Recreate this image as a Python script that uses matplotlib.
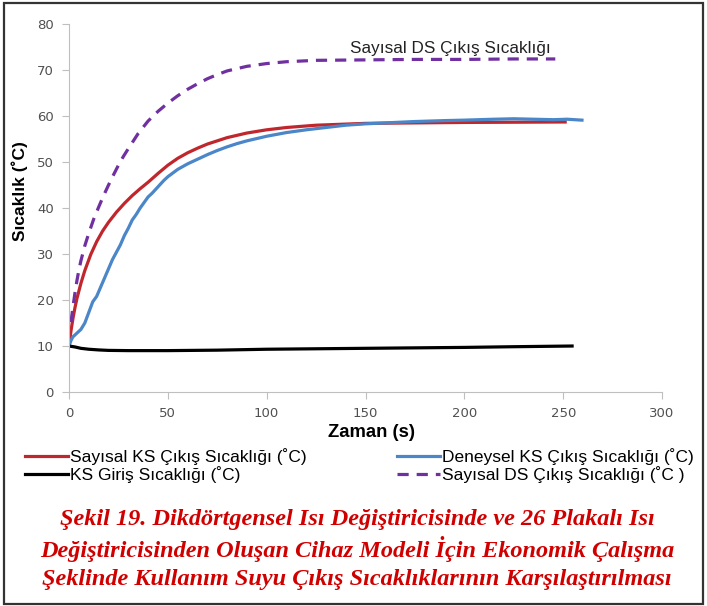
import matplotlib
matplotlib.use("Agg")
import matplotlib.pyplot as plt
from matplotlib.patches import Rectangle

# Data
t_red = [0, 1, 2, 3, 4, 6, 8, 11, 14, 17, 20, 24, 28, 32, 36, 40, 45, 50, 55, 60, 65, 70, 75,
         80, 90, 100, 110, 125, 150, 175, 200, 251]
T_red = [10, 13.3, 16.0, 18.3, 20.3, 23.6, 26.4, 29.9, 32.7, 35.0, 36.9, 39.1, 41.0, 42.7, 44.2,
         45.6, 47.5, 49.3, 50.8, 52.0, 53.0, 53.9, 54.6, 55.3, 56.3, 57.0, 57.5, 58.0, 58.4, 58.5,
         58.6, 58.7]

t_blue = [0, 1, 2, 4, 6, 8, 10, 12, 14, 16, 18, 20, 22, 24, 26, 28, 30, 32, 34, 36, 38, 40, 42,
          45, 48, 50, 55, 60, 65, 70, 75, 80, 85, 90, 100, 110, 120, 130, 140, 150, 160, 175,
          190, 200, 215, 225, 235, 245, 252, 259.5]
T_blue = [10, 11.2, 12.0, 12.8, 13.6, 15.0, 17.3, 19.6, 20.8, 22.8, 24.8, 26.8, 28.8, 30.4, 32.0,
          34.0, 35.6, 37.4, 38.6, 40.0, 41.2, 42.4, 43.2, 44.6, 46.0, 46.8, 48.4, 49.6, 50.6, 51.6,
          52.5, 53.3, 54.0, 54.6, 55.6, 56.4, 57.0, 57.5, 58.0, 58.3, 58.5, 58.8, 59.0, 59.1, 59.3,
          59.4, 59.3, 59.2, 59.3, 59.1]

t_black = [0, 3, 6, 10, 15, 20, 30, 50, 75, 100, 125, 150, 175, 200, 225, 254.5]
T_black = [10, 9.8, 9.5, 9.3, 9.15, 9.05, 9.0, 9.0, 9.1, 9.3, 9.4, 9.5, 9.6, 9.7, 9.85, 10.0]

t_purple = [1, 2, 3, 4, 5, 6, 8, 10, 12.5, 15, 17.5, 20, 22.5, 25, 27.5, 30, 35, 40, 45, 50, 55,
            60, 65, 70, 75, 80, 90, 100, 110, 125, 150, 175, 200, 225, 246]
T_purple = [15.2, 18.5, 21.5, 24.2, 26.5, 28.5, 31.8, 34.5, 37.6, 40.2, 42.7, 45.0, 47.2, 49.3,
            51.2, 52.9, 56.2, 58.9, 61.0, 62.8, 64.4, 65.8, 67.0, 68.1, 69.0, 69.8, 70.8, 71.4,
            71.8, 72.1, 72.2, 72.3, 72.3, 72.4, 72.4]

labels = ["Sayısal KS Çıkış Sıcaklığı (˚C)",
          "KS Giriş Sıcaklığı (˚C)",
          "Deneysel KS Çıkış Sıcaklığı (˚C)",
          "Sayısal DS Çıkış Sıcaklığı (˚C )"]
annotation = "Sayısal DS Çıkış Sıcaklığı"
xlabel = "Zaman (s)"
ylabel = "Sıcaklık (˚C)"
caption = ["Şekil 19. Dikdörtgensel Isı Değiştiricisinde ve 26 Plakalı Isı",
           "Değiştiricisinden Oluşan Cihaz Modeli İçin Ekonomik Çalışma",
           "Şeklinde Kullanım Suyu Çıkış Sıcaklıklarının Karşılaştırılması"]

plt.rcParams['font.family'] = ['Liberation Sans', 'DejaVu Sans']

fig = plt.figure(figsize=(7.07, 6.06), dpi=100)
fig.patches.append(Rectangle((0.005, 0.004), 0.99, 0.991, transform=fig.transFigure,
                             fill=False, edgecolor='#333333', linewidth=1.6))

ax = fig.add_axes([0.0976, 0.3531, 0.8388, 0.6073])
red, = ax.plot(t_red, T_red, color='#C0272D', lw=2.3)
blue, = ax.plot(t_blue, T_blue, color='#4A86C8', lw=2.3)
black, = ax.plot(t_black, T_black, color='#000000', lw=2.3)
purple, = ax.plot(t_purple, T_purple, color='#7030A0', lw=2.3, dashes=(3.5, 2.5))

ax.set_xlim(0, 300)
ax.set_ylim(0, 80)
ax.set_xticks(range(0, 301, 50))
ax.set_yticks(range(0, 81, 10))
for s in ['top', 'right']:
    ax.spines[s].set_visible(False)
for s in ['left', 'bottom']:
    ax.spines[s].set_color('#BFBFBF')
ax.tick_params(colors='#BFBFBF', labelcolor='#505050', length=5, direction='out', pad=6)
for lab in ax.get_xticklabels() + ax.get_yticklabels():
    lab.set_family(['DejaVu Sans'])
    lab.set_fontsize(9.5)

ax.text(142, 74.6, annotation, fontsize=12.3, color='#222222', va='center')

fig.text(0.028, 0.684, ylabel, rotation=90, ha='center', va='center',
         fontsize=12.5, fontweight='bold')
fig.text(0.526, 0.287, xlabel, ha='center', va='center', fontsize=13.3, fontweight='bold')

leg = fig.legend([red, black, blue, purple], labels, loc='upper left',
                 bbox_to_anchor=(0.035, 0.261), ncol=2, frameon=False,
                 fontsize=12.5, handlelength=2.5, handletextpad=0.1,
                 columnspacing=5.2, labelspacing=0.05, borderaxespad=0, borderpad=0)

for i, line in enumerate(caption):
    fig.text(0.505, 0.143 - i * 0.0495, line, ha='center', va='center',
             family=['Liberation Serif', 'DejaVu Serif'], style='italic',
             fontweight='bold', fontsize=17.5, color='#D00000')

fig.savefig("out.png", dpi=100)
